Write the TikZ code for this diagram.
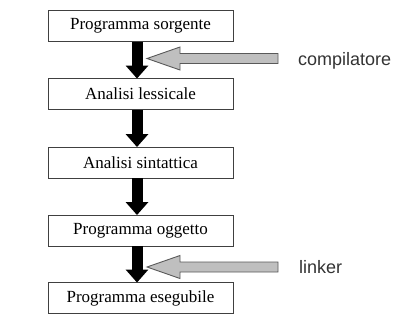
\documentclass[tikz,border=0pt]{standalone}
\usepackage{fontspec}
\setmainfont{Liberation Serif}
\setsansfont{Liberation Sans}
\usetikzlibrary{arrows.meta, calc}

\begin{document}
\begin{tikzpicture}[x=1pt, y=-1pt]
    % --- Styles ---
    \tikzstyle{stepbox}=[draw=black!75, line width=0.9pt, fill=white, minimum width=185pt, minimum height=31pt, inner sep=0pt, font=\fontsize{17}{20}\selectfont]
    \tikzstyle{flow}=[line width=11pt, black, -{Triangle[width=22pt, length=13pt]}, shorten >=-0.5pt]
    \tikzstyle{tool}=[draw=black!65, line width=0.9pt, fill=black!25, line join=miter]
    \tikzstyle{tool_text}=[font=\sffamily\fontsize{18}{20}\selectfont, inner sep=0pt, anchor=base west, text=black!80]

    \useasboundingbox (0,0) rectangle (393,327);

    % --- 1. Phases ---
    \node[stepbox] (b1) at (140.5, 26)  {Programma sorgente};
    \node[stepbox] (b2) at (140.5, 94)  {Analisi lessicale};
    \node[stepbox] (b3) at (140.5, 162.5) {Analisi sintattica};
    \node[stepbox] (b4) at (140.5, 230.5) {Programma oggetto};
    \node[stepbox] (b5) at (140.5, 298) {Programma esegubile};

    % --- 2. Black arrows between phases ---
    \foreach \a/\b in {b1/b2, b2/b3, b3/b4, b4/b5}
        \draw[flow] ([xshift=-3.5pt]\a.south) -- ([xshift=-3.5pt]\b.north);

    % --- 3. Tools (gray arrows) ---
    \coordinate (comptip)  at (147, 58.5);
    \coordinate (comptail) at (278, 58.5);
    \coordinate (linktip)  at (147, 267);
    \coordinate (linktail) at (278, 267);

    \foreach \t/\s in {comptip/comptail, linktip/linktail}
        \draw[tool] (\t) -- ++(33,-11.5) -- ++(0,6.5) -- ($(\s)+(0,-5)$)
            -- ($(\s)+(0,5)$) -- ($(\t)+(33,5)$) -- ++(0,6.5) -- cycle;

    \node[tool_text] (comp) at (298, 65)  {compilatore};
    \node[tool_text] (link) at (299, 273) {linker};

\end{tikzpicture}
\end{document}
